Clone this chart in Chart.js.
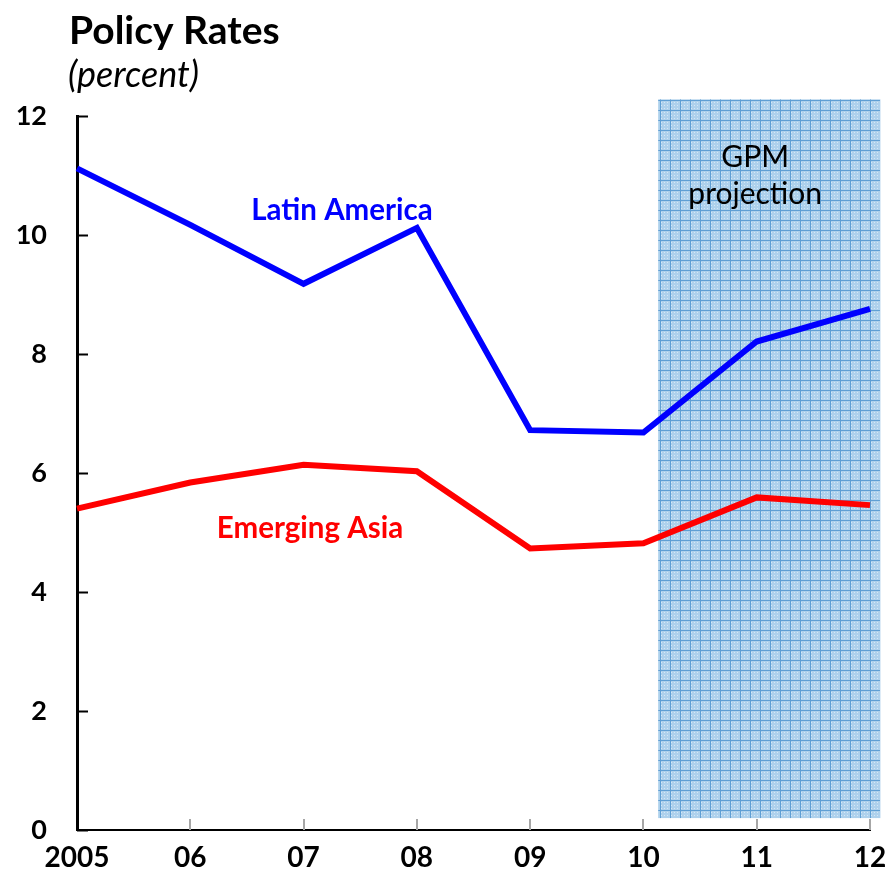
<!DOCTYPE html>
<html>
<head>
<meta charset="utf-8">
<script src="https://cdn.jsdelivr.net/npm/chart.js@4"></script>
<style>
  html, body { margin: 0; padding: 0; background: #fff; }
  #wrap { width: 886px; height: 869px; position: relative; }
</style>
</head>
<body>
<div id="wrap"><canvas id="ratesChart"></canvas></div>
<script>
// ---- data ----
const years = ['2005', '06', '07', '08', '09', '10', '11', '12'];
const latinAmerica = [11.12, 10.17, 9.18, 10.12, 6.72, 6.68, 8.21, 8.76];
const emergingAsia = [5.40, 5.84, 6.14, 6.03, 4.73, 4.82, 5.59, 5.46];
const yTicks = [0, 2, 4, 6, 8, 10, 12];
// projection band, in category index / value units
const projStart = 5.13, projEnd = 7.09, projTop = 12.28, projBottom = 0.2;

const FONT = 'Lato, "Open Sans", sans-serif';

// little checked pattern for the projection box
function makeGridPattern(ctx) {
    const c = document.createElement('canvas');
    c.width = 10; c.height = 10;
    const p = c.getContext('2d');
    p.fillStyle = '#aed1ec';
    p.fillRect(0, 0, 10, 10);
    p.fillStyle = '#d6e8f6';
    for (let i = 1; i < 10; i += 3) {
        for (let j = 2; j < 10; j += 3) p.fillRect(i, j, 1, 1);
    }
    p.fillStyle = '#5f9fd4';
    p.fillRect(0, 0, 10, 1);
    p.fillRect(0, 0, 1, 10);
    return ctx.createPattern(c, 'repeat');
}

// projection shading drawn behind the lines
const projectionBox = {
    id: 'projectionBox',
    beforeDatasetsDraw(chart) {
        const { ctx, scales: { x, y } } = chart;
        const l = x.getPixelForValue(projStart), r = x.getPixelForValue(projEnd);
        const t = y.getPixelForValue(projTop), b = y.getPixelForValue(projBottom);
        ctx.save();
        ctx.fillStyle = makeGridPattern(ctx);
        ctx.fillRect(l, t, r - l, b - t);
        ctx.fillStyle = '#000';
        ctx.font = '30px ' + FONT;
        ctx.textAlign = 'center';
        ctx.textBaseline = 'middle';
        const cx = (l + r) / 2 - 14;
        ctx.fillText('GPM', cx, 157);
        ctx.fillText('projection', cx, 194);
        ctx.restore();
    }
};

// inward tick marks, titles and series labels
const decorations = {
    id: 'decorations',
    afterDraw(chart) {
        const { ctx, chartArea, scales: { x, y } } = chart;
        ctx.save();
        // y ticks (black, pointing right)
        ctx.strokeStyle = '#000';
        ctx.lineWidth = 2;
        yTicks.forEach(v => {
            const py = Math.round(y.getPixelForValue(v)) + 0.5;
            ctx.beginPath();
            ctx.moveTo(chartArea.left, py);
            ctx.lineTo(chartArea.left + 11, py);
            ctx.stroke();
        });
        // x ticks (grey, pointing up)
        ctx.strokeStyle = '#a6a6a6';
        ctx.lineWidth = 2;
        years.forEach((_, i) => {
            if (i === 0) return;
            const px = Math.round(x.getPixelForValue(i));
            ctx.beginPath();
            ctx.moveTo(px, chartArea.bottom);
            ctx.lineTo(px, chartArea.bottom - 11);
            ctx.stroke();
        });

        ctx.textAlign = 'left';
        ctx.textBaseline = 'alphabetic';
        ctx.fillStyle = '#000';
        ctx.font = 'bold 39px ' + FONT;
        ctx.fillText('Policy Rates', 69, 44);
        ctx.font = 'italic 36px ' + FONT;
        ctx.fillText('(percent)', 68, 87);

        ctx.textAlign = 'center';
        ctx.textBaseline = 'middle';
        ctx.font = 'bold 29.5px ' + FONT;
        ctx.fillStyle = '#0000ff';
        ctx.fillText('Latin America', 342, 210);
        ctx.fillStyle = '#ff0000';
        ctx.fillText('Emerging Asia', 310, 528);
        ctx.restore();
    }
};

// keep the plot box where the reference has it: no extra room for edge labels
function noEdgePadding(s) {
    s.paddingLeft = 0; s.paddingRight = 0;
    s.paddingTop = 0; s.paddingBottom = 0;
}

new Chart(document.getElementById('ratesChart'), {
    type: 'line',
    data: {
        labels: years,
        datasets: [
            { label: 'Latin America', data: latinAmerica, borderColor: '#0000ff', borderWidth: 6 },
            { label: 'Emerging Asia', data: emergingAsia, borderColor: '#ff0000', borderWidth: 6 }
        ]
    },
    options: {
        responsive: true,
        maintainAspectRatio: false,
        animation: false,
        clip: false,
        elements: { point: { radius: 0 }, line: { tension: 0, borderCapStyle: 'butt', borderJoinStyle: 'miter' } },
        layout: { padding: { top: 116, right: 16, left: 0, bottom: 0 } },
        plugins: { legend: { display: false }, tooltip: { enabled: false } },
        scales: {
            x: {
                offset: false,
                grid: { display: false, drawTicks: false },
                border: { display: true, color: '#000', width: 2 },
                ticks: { color: '#000', font: { family: FONT, size: 28, weight: 'bold' }, padding: 11, maxRotation: 0, autoSkip: false },
                afterFit(s) { s.height = 39; noEdgePadding(s); }
            },
            y: {
                min: 0, max: 12,
                afterBuildTicks(s) { s.ticks = yTicks.map(v => ({ value: v })); },
                grid: { display: false, drawTicks: false },
                border: { display: true, color: '#000', width: 3 },
                ticks: { color: '#000', font: { family: FONT, size: 27, weight: 'bold' }, padding: 30 },
                afterFit(s) { s.width = 77; noEdgePadding(s); }
            }
        }
    },
    plugins: [projectionBox, decorations]
});
</script>
</body>
</html>
